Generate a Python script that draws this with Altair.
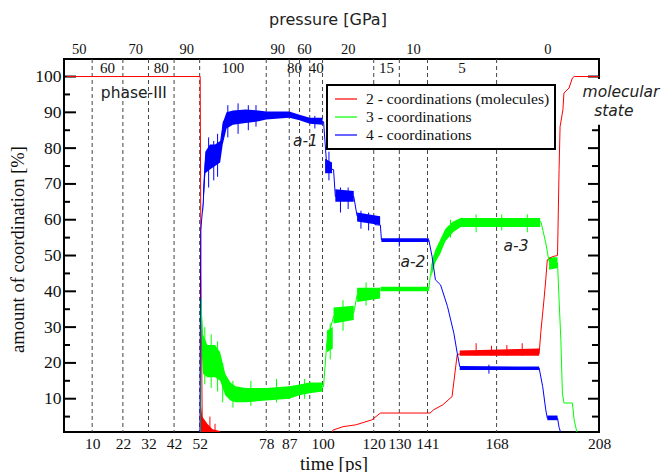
import altair as alt
import pandas as pd

SERIES = ["2 - coordinations (molecules)", "3 - coordinations", "4 - coordinations"]
COLORS = ["#ff0000", "#00ff00", "#0000ff"]

# ---- centre lines (time [ps], amount [%]) ----
red_t = [0, 52.2, 52.5, 53, 60, 103.5, 104, 108, 113, 119.3, 122.6, 142, 143.4, 147, 150.6, 152.6,
         153.6, 184.6, 185.3, 186.5, 187.2, 187.8, 189.8, 191.8, 192.4, 192.8, 193.9, 194.3, 196.3,
         197.6, 198.3, 208]
red_v = [100, 100, 46, 3, 0, 0, 1.2, 2.2, 2.7, 4.1, 6, 6, 6.9, 8.3, 10.6, 22.3,
         22.5, 22.5, 28.8, 37.6, 43.2, 48.8, 49.7, 50, 74, 86, 90.7, 95.4, 96.8,
         99.6, 100, 100]

green_t = [0, 52.3, 52.5, 53.3, 56, 60, 63, 66, 78, 87, 95, 100.4, 101.7, 104.3, 112.2, 113.5,
           122.6, 141.5, 142.2, 143.5, 146.1, 148, 151.3, 153.9, 185.3, 187.2, 188.5, 191.8,
           192.4, 193.1, 193.7, 194.3, 197.6, 198.3, 199.6, 208]
green_v = [0, 0, 38, 22, 21, 20, 14, 11.5, 11, 11.5, 12.5, 13.4, 26, 33, 34, 39,
           40.5, 40.5, 45, 50, 52.5, 56, 58, 59.5, 59.5, 53.5, 48.3, 48,
           37.6, 26.5, 11.6, 8.8, 8.8, 4, 0, 0]

blue_t = [0, 52.1, 52.4, 53.4, 54.2, 57, 60, 61.3, 65, 78, 87, 92, 95.2, 100.4, 101.7, 104.3,
          105, 112.2, 113.5, 120, 120.5, 122.6, 123, 141.5, 142.8, 144.1, 146.1, 148.8, 151.3,
          152.6, 153.6, 184.6, 186, 187.2, 187.8, 191.8, 192.4, 193.3, 208]
blue_v = [0, 0, 57, 65, 76, 78, 78.5, 87.5, 89, 89.3, 89.5, 88.5, 87.5, 87.4, 74.5, 74,
          66.5, 66.5, 61, 60.5, 58.6, 58.5, 54.4, 54.4, 49.7, 43.2, 41.8, 35.8, 28.3,
          22.8, 19, 18.6, 13.4, 6.9, 4.6, 4.6, 2, 0, 0]

# ---- fluctuation bands (time, low, high) ----
red_bands = [
    ([52.5, 53, 55, 57, 60], [0, 0, 0, 0, 0], [8, 5, 3, 1.5, 1]),
    ([153.6, 184.6], [22, 22], [23.5, 24]),
]
green_bands = [
    ([52.6, 53.3, 55, 58, 60, 62, 64, 66, 70, 78, 87, 91, 95, 100],
     [26, 17, 16, 16, 15, 11, 9.5, 9, 9, 9.5, 10, 11, 11.5, 12],
     [38, 28, 25, 25, 23, 17, 14.5, 13.5, 13, 13, 13.5, 14, 14.5, 14.5]),
    ([101.7, 104], [23, 24], [29, 30]),
    ([104.3, 112.2], [31, 32], [35.5, 36]),
    ([113.5, 122.5], [37, 38], [41, 41]),
    ([122.7, 141.5], [40, 40], [41.3, 41.3]),
    ([142.5, 144, 146, 148, 151, 154, 185], [44, 48, 50.5, 54, 56.5, 58, 58], [47.5, 51.5, 54.5, 57.5, 59.5, 60.5, 60.5]),
    ([188.5, 191.8], [46, 46.5], [49.5, 49.5]),
]
blue_bands = [
    ([53.3, 54.2, 56, 58, 60, 61, 62.5, 65, 70, 75, 78, 83, 87, 91, 95, 100],
     [62, 73, 74, 75, 76, 81, 85.5, 86.5, 87, 87.5, 88, 88.3, 88.5, 87.8, 86.8, 86.5],
     [68, 79, 81, 81, 82, 87, 90, 90.5, 90.8, 90.5, 90.2, 90.2, 90.2, 89.3, 88.5, 88.5]),
    ([101, 103.7], [73, 73], [77, 76]),
    ([105, 112.2], [65, 65], [68.5, 68]),
    ([113.5, 122.5], [59.5, 58.5], [62, 61]),
    ([123, 141.5], [53.8, 53.8], [54.8, 54.8]),
    ([153.6, 184.6], [18, 18], [19, 19]),
    ([187.8, 191.8], [4, 4], [5.3, 5.3]),
]

# ---- individual spikes (time, low, high) ----
red_spikes = [(56, 0, 5), (58, 0, 3), (160, 22, 25.5), (166, 22, 24.8), (172, 22, 25), (178, 22, 25.5)]
green_spikes = [(54, 14, 30), (56.5, 13, 28), (59, 12, 26), (61, 9, 20), (65, 7.5, 15), (72, 8, 15),
                (82, 9, 15.5), (93, 10, 15.5), (103, 21, 31), (108, 29, 37.5), (117, 36, 42.5),
                (150, 55, 60), (160, 56.5, 61.5), (170, 57, 61.5), (180, 56.5, 61.5)]
blue_spikes = [(55.5, 69, 83), (57.5, 71, 82), (59, 72, 84), (63, 83, 92), (67, 84, 92.5), (71, 85, 92),
               (74, 86, 92), (97, 85.5, 89), (102.5, 71, 79), (107, 62, 69), (110, 63, 69),
               (115, 57.5, 62.5), (118, 57, 62), (130, 52.5, 55), (165, 17, 19.5)]

# ---- guides ----
vlines = [10, 22, 32, 42, 52, 78, 87, 91, 95, 100, 120, 130, 141, 168]
time_labels = [10, 22, 32, 42, 52, 78, 87, 100, 120, 130, 141, 168, 208]
p_outer_t = [5, 27, 47, 82.5, 93, 110, 135.5, 188]
p_outer = ["50", "70", "90", "90", "60", "20", "10", "0"]
p_inner_t = [16, 37, 65, 89, 97.5, 125, 154.5]
p_inner = ["60", "80", "100", "80", "40", "15", "5"]
y_major = [10, 20, 30, 40, 50, 60, 70, 80, 90, 100]
y_minor = [5, 15, 25, 35, 45, 55, 65, 75, 85, 95]

ann_text = ["a-1", "a-2", "a-3", "molecular", "state"]
ann_t = [93.3, 135.3, 175.6, 216.6, 213.8]
ann_v = [82, 48.3, 52.8, 95.6, 90.5]

W, H = 535, 373
xs = alt.Scale(domain=[-1, 208], nice=False, zero=False)
ys = alt.Scale(domain=[0.7, 104.9], nice=False, zero=False)
cs = alt.Scale(domain=SERIES, range=COLORS)
SERIF = "'Liberation Serif', 'Times New Roman', Times, serif"
SANS = "'DejaVu Sans', sans-serif"

lines_df = pd.concat([
    pd.DataFrame({"t": red_t, "v": red_v, "series": SERIES[0]}),
    pd.DataFrame({"t": green_t, "v": green_v, "series": SERIES[1]}),
    pd.DataFrame({"t": blue_t, "v": blue_v, "series": SERIES[2]}),
])
rows = []
for name, bands in zip(SERIES, [red_bands, green_bands, blue_bands]):
    for k, (bt, lo, hi) in enumerate(bands):
        for a, b, c in zip(bt, lo, hi):
            rows.append({"t": a, "lo": b, "hi": c, "series": name, "seg": f"{name}-{k}"})
bands_df = pd.DataFrame(rows)
spk = []
for name, sp in zip(SERIES, [red_spikes, green_spikes, blue_spikes]):
    for a, b, c in sp:
        spk.append({"t": a, "lo": b, "hi": c, "series": name})
spikes_df = pd.DataFrame(spk)

x_axis = alt.Axis(
    values=time_labels, ticks=False, domain=False, grid=False,
    labelFont=SERIF, labelFontSize=15.5, labelColor="#111", labelPadding=4,
    labelOverlap=False, labelFlush=False,
    title="time [ps]", titleFont=SERIF, titleFontSize=19, titleFontWeight="normal",
    titleColor="#111", titleX=269.6, titleY=31, titleBaseline="middle")
y_axis = alt.Axis(
    values=y_major, ticks=False, domain=False, grid=False,
    labelFont=SERIF, labelFontSize=17.5, labelColor="#111", labelPadding=3,
    labelOverlap=False, labelFlush=False,
    title="amount of coordination [%]", titleFont=SERIF, titleFontSize=18.6,
    titleFontWeight="normal", titleColor="#111", titleX=-47, titleY=190,
    titleBaseline="middle")

X = lambda f: alt.X(f, scale=xs, axis=x_axis)
Y = lambda f: alt.Y(f, scale=ys, axis=y_axis)

grid = alt.Chart(pd.DataFrame({"t": vlines})).mark_rule(
    color="#444", strokeDash=[4, 3], strokeWidth=1).encode(x=X("t:Q"))

tick_major = alt.Chart(pd.DataFrame({"v": y_major})).mark_rule(color="black", strokeWidth=2).encode(
    y=Y("v:Q"), x=alt.value(0), x2=alt.value(12))
tick_minor = alt.Chart(pd.DataFrame({"v": y_minor})).mark_rule(color="black", strokeWidth=2).encode(
    y=Y("v:Q"), x=alt.value(0), x2=alt.value(6))
rtick_major = alt.Chart(pd.DataFrame({"v": y_major})).mark_rule(color="black", strokeWidth=2).encode(
    y=Y("v:Q"), x=alt.value(W - 11), x2=alt.value(W))
rtick_minor = alt.Chart(pd.DataFrame({"v": y_minor})).mark_rule(color="black", strokeWidth=2).encode(
    y=Y("v:Q"), x=alt.value(W - 7), x2=alt.value(W))

legend = alt.Legend(
    title=None, orient="none", legendX=263, legendY=26,
    fillColor="white", strokeColor="black", padding=5,
    symbolType="M-0.75,0L2,0", symbolSize=256, symbolStrokeWidth=1.2,
    labelFont=SERIF, labelFontSize=15.6, labelColor="#111", labelOffset=16,
    rowPadding=0, labelLimit=400, zindex=1)
color = alt.Color("series:N", scale=cs, sort=SERIES, legend=legend)

bands = alt.Chart(bands_df).mark_area(opacity=1, clip=True, strokeWidth=0).encode(
    x=X("t:Q"), y=Y("lo:Q"), y2="hi:Q", color=color, detail="seg:N")
spikes = alt.Chart(spikes_df).mark_rule(strokeWidth=1, clip=True).encode(
    x=X("t:Q"), y=Y("lo:Q"), y2="hi:Q", color=color)
lines = alt.Chart(lines_df).mark_line(strokeWidth=1, clip=True).encode(
    x=X("t:Q"), y=Y("v:Q"), color=color)

outer = alt.Chart(pd.DataFrame({"t": p_outer_t, "lab": p_outer})).mark_text(
    font=SERIF, fontSize=14.5, color="#111", baseline="middle").encode(
    x=X("t:Q"), y=alt.value(-9), text="lab:N")
inner = alt.Chart(pd.DataFrame({"t": p_inner_t, "lab": p_inner})).mark_text(
    font=SERIF, fontSize=15, color="#111", baseline="middle").encode(
    x=X("t:Q"), y=alt.value(8.5), text="lab:N")
ptitle = alt.Chart(pd.DataFrame({"lab": ["pressure [GPa]"]})).mark_text(
    font=SANS, fontSize=16, color="#222", baseline="middle").encode(
    x=alt.value(264), y=alt.value(-39), text="lab:N")

whitebox = alt.Chart(pd.DataFrame({"t1": [200], "t2": [232], "v1": [86.5], "v2": [99.3]})).mark_rect(
    color="white").encode(x=X("t1:Q"), x2="t2:Q", y=Y("v1:Q"), y2="v2:Q")
ann = alt.Chart(pd.DataFrame({"t": ann_t, "v": ann_v, "lab": ann_text})).mark_text(
    font=SANS, fontSize=15.5, fontStyle="italic", color="#222", baseline="middle").encode(
    x=X("t:Q"), y=Y("v:Q"), text="lab:N")
phase = alt.Chart(pd.DataFrame({"t": [26.3], "v": [95.4], "lab": ["phase-III"]})).mark_text(
    font=SANS, fontSize=15.5, color="#222", baseline="middle").encode(
    x=X("t:Q"), y=Y("v:Q"), text="lab:N")

chart = alt.layer(
    grid, tick_major, tick_minor, rtick_major, rtick_minor,
    bands, spikes, lines, outer, inner, ptitle, phase, whitebox, ann
).resolve_scale(color="shared").properties(
    width=W, height=H,
    autosize=alt.AutoSizeParams(type="none"),
    padding={"left": 64, "top": 59, "right": 64, "bottom": 40},
    background="white",
).configure_view(stroke="black", strokeWidth=2).configure_legend(strokeWidth=2)

chart.save("out.html", embed_options={"renderer": "svg", "actions": False})
